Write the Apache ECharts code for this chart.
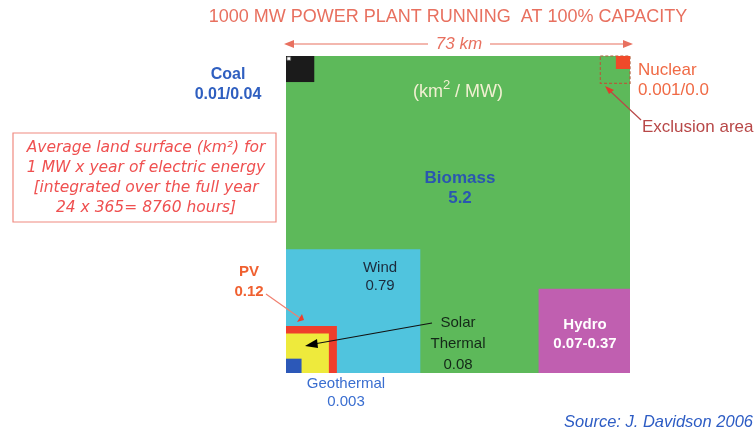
<!DOCTYPE html>
<html><head><meta charset="utf-8">
<script src="https://cdn.jsdelivr.net/npm/echarts@6/dist/echarts.min.js"></script>
<style>html,body{margin:0;padding:0;background:#fff}#c{width:756px;height:433px}</style>
</head><body><div id="c"></div>
<script>
// Land area squares (km side, km position from lower-left of the 73 km frame)
const sources   = ['Biomass','Wind','Hydro','PV','Solar Thermal','Geothermal','Coal','Coal (min)','Nuclear exclusion','Nuclear'];
const valueText = ['5.2','0.79','0.07-0.37','0.12','0.08','0.003','0.04','0.01','0.0','0.001'];
const sideKm    = [73, 28.5, 19.4, 10.8, 9.1, 3.3, 6.0, 0.8, 6.3, 3.0];
const x0Km      = [0, 0, 53.6, 0, 0, 0, 0, 0.2, 66.7, 70.0];
const y0Km      = [0, 0, 0, 0, 0, 0, 67.0, 72.0, 66.7, 70.0];
const frameKm = 73;

const colors = ['#5db95a','#50c4de','#c05fb0','#ef3e2c','#eeea3c','#2c58b8','#1b1b1b','#ffffff','none','#f04a2a'];

const data = sources.map((s,i)=>[x0Km[i], y0Km[i], sideKm[i], i]);

const chart = echarts.init(document.getElementById('c'), null, {renderer:'canvas'});
const red = '#e8705f';
const F = '"Liberation Sans", Arial, sans-serif';
const g = [
    {type:'text', style:{text:'1000 MW POWER PLANT RUNNING  AT 100% CAPACITY', x:448, y:17, align:'center', verticalAlign:'middle', fill:red, font:'18px '+F}},
    {type:'line', shape:{x1:290, y1:44, x2:428, y2:44}, style:{stroke:red, lineWidth:1.2}},
    {type:'line', shape:{x1:490, y1:44, x2:627, y2:44}, style:{stroke:red, lineWidth:1.2}},
    {type:'polygon', shape:{points:[[284,44],[294,40],[294,48]]}, style:{fill:red}},
    {type:'polygon', shape:{points:[[633,44],[623,40],[623,48]]}, style:{fill:red}},
    {type:'text', style:{text:'73 km', x:459, y:44, align:'center', verticalAlign:'middle', fill:red, font:'italic 17px '+F}},

    {type:'text', style:{text:'(km', x:413, y:92, align:'left', verticalAlign:'middle', fill:'#f2f0d2', font:'18px '+F}},
    {type:'text', style:{text:'2', x:443, y:85, align:'left', verticalAlign:'middle', fill:'#f2f0d2', font:'13px '+F}},
    {type:'text', style:{text:' / MW)', x:450, y:92, align:'left', verticalAlign:'middle', fill:'#f2f0d2', font:'18px '+F}},

    {type:'text', style:{text:'Biomass\n5.2', x:460, y:188, align:'center', verticalAlign:'middle', fill:'#2a56b0', font:'bold 17px '+F, lineHeight:20}},
    {type:'text', style:{text:'Coal\n0.01/0.04', x:228, y:85, align:'center', verticalAlign:'middle', fill:'#2f5fc0', font:'bold 16px '+F, lineHeight:20}},
    {type:'text', style:{text:'Nuclear\n0.001/0.0', x:638, y:80, align:'left', verticalAlign:'middle', fill:'#f06a45', font:'17px '+F, lineHeight:20}},
    {type:'text', style:{text:'Exclusion area', x:642, y:127, align:'left', verticalAlign:'middle', fill:'#b84848', font:'17px '+F}},
    {type:'line', shape:{x1:641, y1:120, x2:609, y2:90}, style:{stroke:'#b84848', lineWidth:1.2}},
    {type:'polygon', shape:{points:[[605,86],[614,90],[609,94]]}, style:{fill:'#e03c2c'}},

    {type:'rect', shape:{x:13, y:133, width:263, height:89}, style:{fill:'none', stroke:'#f08a80', lineWidth:1.2}},
    {type:'text', style:{text:'Average land surface (km²) for\n1 MW x year of electric energy\n[integrated over the full year\n24 x 365= 8760 hours]', x:146, y:178, align:'center', verticalAlign:'middle', fill:'#ef5050', font:'italic 15.5px "DejaVu Sans"', lineHeight:20}},

    {type:'text', style:{text:'PV\n0.12', x:249, y:282, align:'center', verticalAlign:'middle', fill:'#f06030', font:'bold 15px '+F, lineHeight:20}},
    {type:'line', shape:{x1:266, y1:294, x2:300, y2:318}, style:{stroke:'#f08070', lineWidth:1.2}},
    {type:'polygon', shape:{points:[[304,320],[297,322],[302,314]]}, style:{fill:'#ef3e2c'}},

    {type:'text', style:{text:'Wind\n0.79', x:380, y:277, align:'center', verticalAlign:'middle', fill:'#1c2a3c', font:'15px '+F, lineHeight:18}},
    {type:'text', style:{text:'Solar\nThermal\n0.08', x:458, y:344, align:'center', verticalAlign:'middle', fill:'#142818', font:'15px '+F, lineHeight:21}},
    {type:'line', shape:{x1:432, y1:323, x2:314, y2:344}, style:{stroke:'#111', lineWidth:1.2}},
    {type:'polygon', shape:{points:[[305,346],[317,339],[318,348]]}, style:{fill:'#000'}},

    {type:'text', style:{text:'Hydro\n0.07-0.37', x:585, y:334, align:'center', verticalAlign:'middle', fill:'#ffffff', font:'bold 15px '+F, lineHeight:19}},
    {type:'text', style:{text:'Geothermal\n0.003', x:346, y:393, align:'center', verticalAlign:'middle', fill:'#3a6ed0', font:'15px '+F, lineHeight:18}},
    {type:'text', style:{text:'Source: J. Davidson 2006', x:753, y:422, align:'right', verticalAlign:'middle', fill:'#2d5cc4', font:'italic 16.5px '+F}}
].map(e => Object.assign({z:100, zlevel:0}, e));

chart.setOption({
  animation:false,
  grid:{left:286, top:56, width:344, height:317},
  xAxis:{type:'value', min:0, max:frameKm, show:false},
  yAxis:{type:'value', min:0, max:frameKm, show:false},
  series:[{
    type:'custom',
    z:1,
    data:data,
    renderItem:function(params, api){
      const x0=api.value(0), y0=api.value(1), s=api.value(2), idx=api.value(3);
      const tl=api.coord([x0, y0+s]);
      const br=api.coord([x0+s, y0]);
      const shape={x:tl[0], y:tl[1], width:br[0]-tl[0], height:br[1]-tl[1]};
      if (colors[idx]==='none'){
        return {type:'rect', shape:shape, style:{fill:'none', stroke:'#b0603c', lineWidth:1.2, lineDash:[3,2]}};
      }
      if (idx===7){
        return {type:'rect', shape:shape, style:{fill:'#ffffff', stroke:'#555', lineWidth:0.8}};
      }
      return {type:'rect', shape:shape, style:{fill:colors[idx]}};
    }
  }],
  graphic:{elements:g}
});
</script></body></html>
